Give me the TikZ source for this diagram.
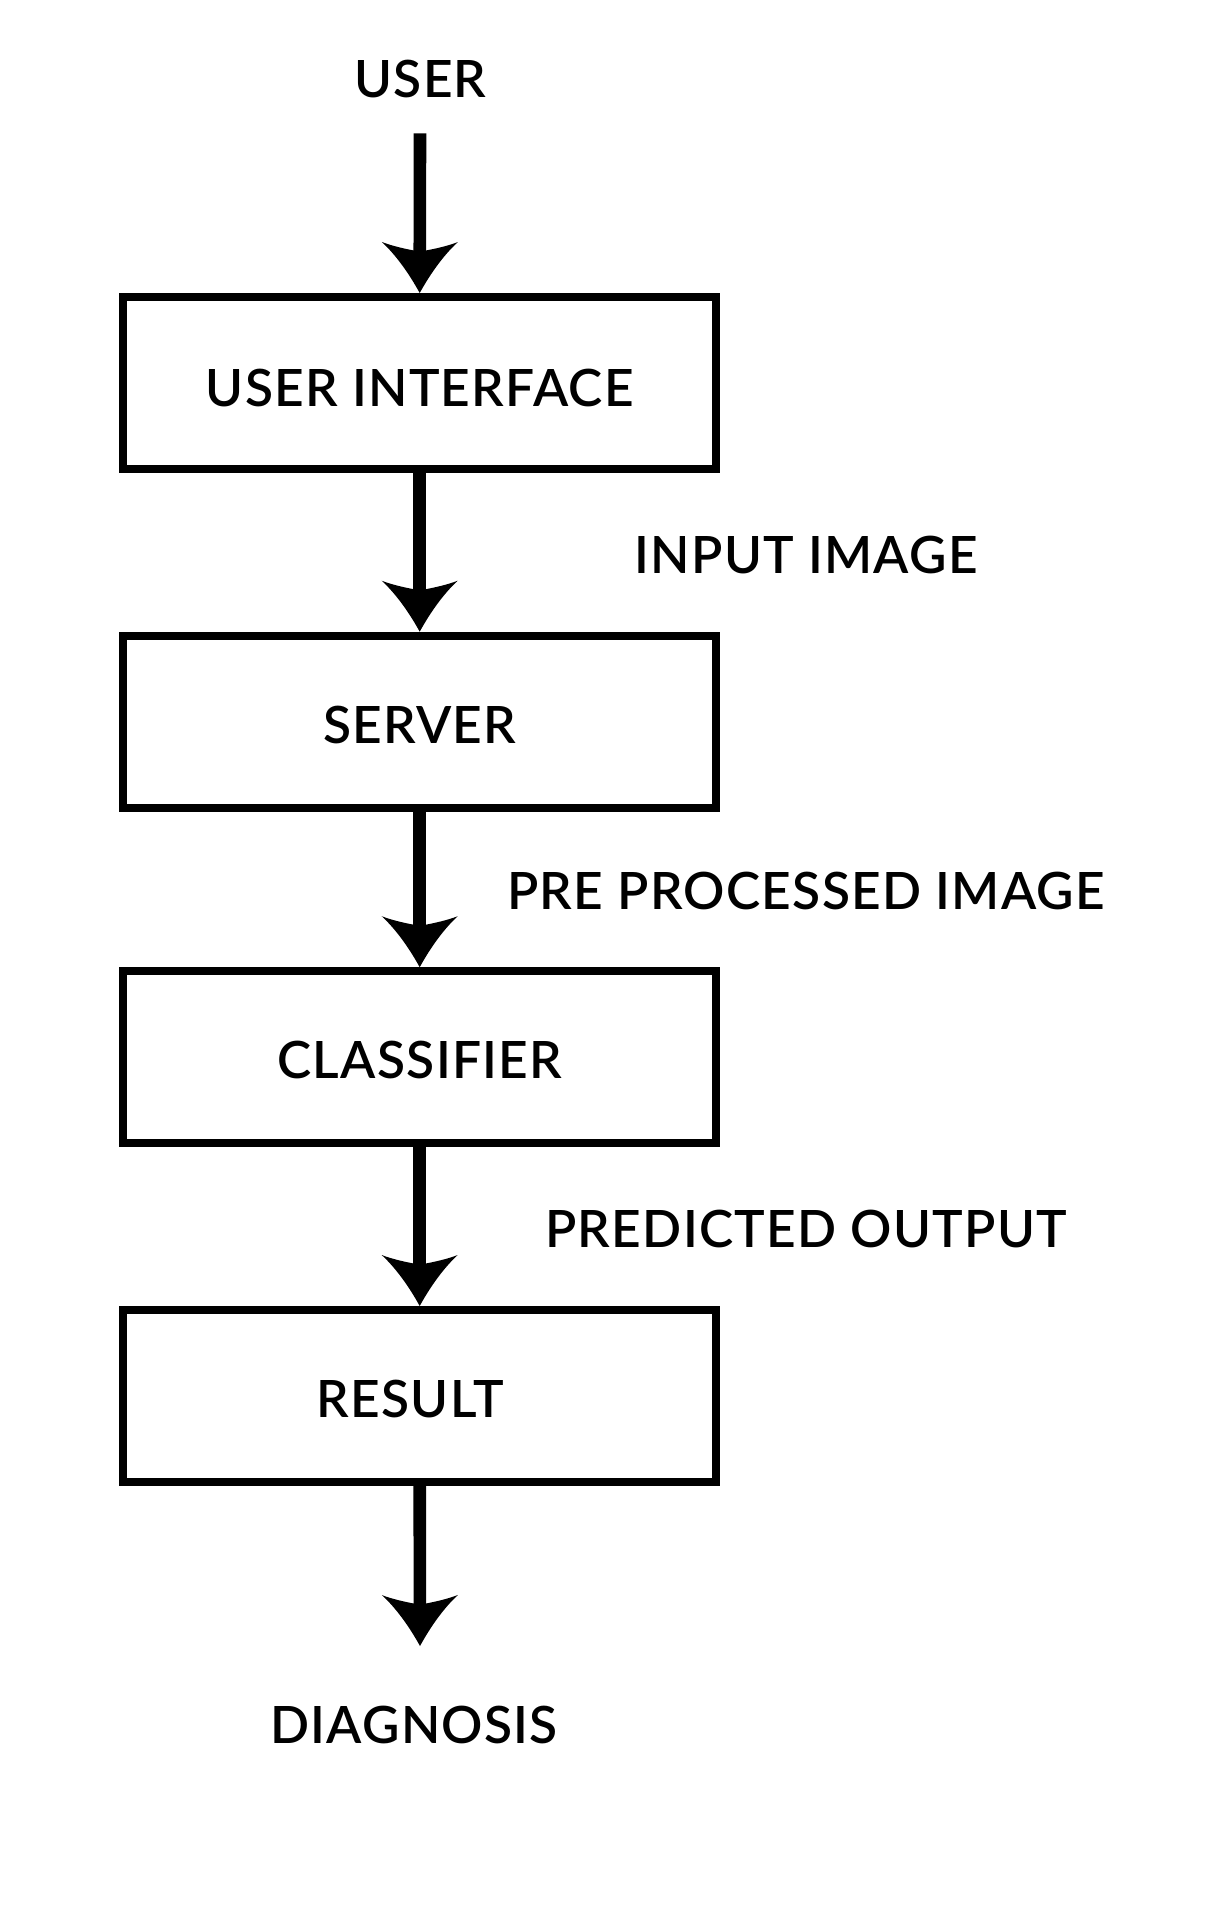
\documentclass[tikz,border=0pt]{standalone}
\usepackage{fontspec}
\setmainfont{Lato Semibold}[LetterSpace=2.5]
\usetikzlibrary{arrows.meta}

\pgfdeclarearrow{
  name=Curvy,
  setup code={
    \pgfarrowssettipend{0pt}
    \pgfarrowssetbackend{-51pt}
    \pgfarrowssetlineend{-40pt}
    \pgfarrowshullpoint{0pt}{0pt}
    \pgfarrowshullpoint{-51pt}{38pt}
    \pgfarrowshullpoint{-51pt}{-38pt}
  },
  drawing code={
    \pgfpathmoveto{\pgfpointorigin}
    \pgfpathcurveto{\pgfpoint{-20pt}{11pt}}{\pgfpoint{-38pt}{24pt}}{\pgfpoint{-51pt}{38pt}}
    \pgfpathcurveto{\pgfpoint{-47pt}{28pt}}{\pgfpoint{-44pt}{14pt}}{\pgfpoint{-42.5pt}{6pt}}
    \pgfpathlineto{\pgfpoint{-42.5pt}{-6pt}}
    \pgfpathcurveto{\pgfpoint{-44pt}{-14pt}}{\pgfpoint{-47pt}{-28pt}}{\pgfpoint{-51pt}{-38pt}}
    \pgfpathcurveto{\pgfpoint{-38pt}{-24pt}}{\pgfpoint{-20pt}{-11pt}}{\pgfpointorigin}
    \pgfpathclose
    \pgfusepathqfill
  }
}

\begin{document}
\begin{tikzpicture}[x=1pt,y=-1pt,
  txt/.style={font=\fontsize{51.4}{60}\selectfont},
  flowbox/.style={txt, draw=black, line width=8pt, minimum width=592.7pt,
    minimum height=172pt, inner sep=0pt, text height=42.8pt, text depth=0pt},
  lbl/.style={txt, anchor=base, inner sep=0pt},
  conn/.style={draw=black, line width=12.6pt, -{Curvy}}]
\path[use as bounding box, fill=white] (0,0) rectangle (1216,1924);

\node[lbl] (user) at (420.5,98) {USER};
\node[flowbox, text height=46.8pt] (ui) at (419.7,383) {USER INTERFACE};
\node[flowbox] (srv) at (419.7,721.7) {SERVER};
\node[flowbox] (cls) at (419.7,1057.2) {CLASSIFIER};
\node[flowbox] (res) at (419.7,1396) {RESULT\hspace*{19pt}};
\node[lbl] (diag) at (414,1743.5) {DIAGNOSIS};

\node[lbl] (l1) at (806,573.5) {INPUT IMAGE};
\node[lbl] (l2) at (806,909) {PRE PROCESSED IMAGE};
\node[lbl] (l3) at (806,1247) {PREDICTED OUTPUT};

\coordinate (s0) at (420,133.3);
\coordinate (e5) at (420,1646);

\draw[conn] (s0) -- (ui.north);
\draw[conn] (ui.south) -- (srv.north);
\draw[conn] (srv.south) -- (cls.north);
\draw[conn] (cls.south) -- (res.north);
\draw[conn] (res.south) -- (e5);
\end{tikzpicture}
\end{document}
